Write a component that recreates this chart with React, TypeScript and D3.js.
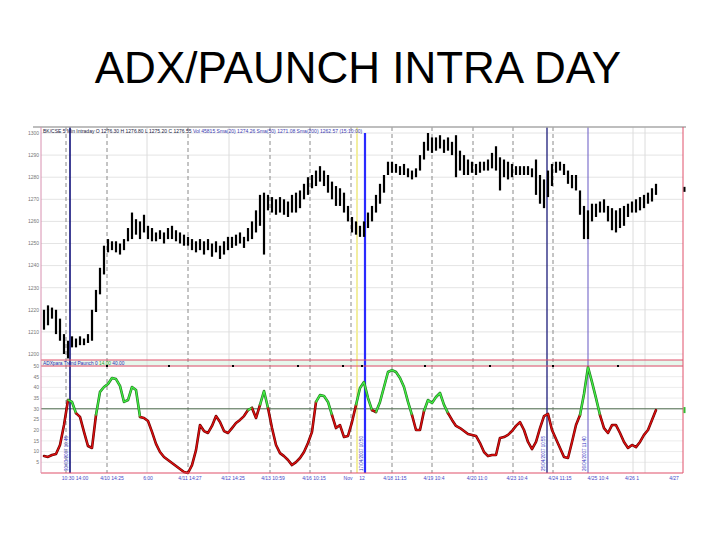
import React from 'react';
import * as d3 from 'd3';

// ---- DATA ----
const barHigh = [
  1220, 1222, 1221, 1220, 1216, 1209, 1206, 1208, 1207, 1208, 1207, 1209, 1220, 1229, 1239, 1249,
  1252, 1251, 1251, 1250, 1252, 1257, 1264, 1261, 1260, 1263, 1258, 1257, 1255, 1256, 1255, 1257,
  1258, 1256, 1255, 1254, 1253, 1252, 1251, 1252, 1251, 1252, 1250, 1251, 1249, 1251, 1253, 1253,
  1254, 1255, 1253, 1257, 1260, 1265, 1272, 1273, 1272, 1271, 1270, 1271, 1270, 1269, 1272, 1273,
  1274, 1277, 1280, 1281, 1283, 1285, 1283, 1281, 1278, 1276, 1275, 1273, 1267, 1262, 1260, 1258,
  1260, 1264, 1267, 1272, 1277, 1281, 1287, 1287, 1286, 1285, 1286, 1284, 1283, 1284, 1290, 1296,
  1300, 1298, 1298, 1299, 1297, 1298, 1296, 1299, 1292, 1290, 1288, 1287, 1286, 1287, 1287, 1288,
  1291, 1294, 1289, 1288, 1287, 1286, 1285, 1285, 1285, 1285, 1284, 1288, 1281, 1279, 1283, 1286,
  1287, 1287, 1286, 1283, 1281, 1281, 1274, 1267, 1265, 1268, 1268, 1269, 1270, 1267, 1266, 1265,
  1266, 1267, 1268, 1269, 1270, 1271, 1272, 1273, 1275, 1277,
];
const barLow = [
  1211, 1213, 1216, 1209, 1206, 1200, 1198, 1203, 1203, 1204, 1204, 1205, 1206, 1219, 1227, 1236,
  1246, 1247, 1246, 1245, 1247, 1251, 1252, 1254, 1252, 1255, 1252, 1251, 1251, 1252, 1250, 1252,
  1252, 1251, 1250, 1249, 1249, 1247, 1246, 1247, 1245, 1247, 1244, 1246, 1243, 1245, 1247, 1248,
  1249, 1250, 1248, 1251, 1252, 1255, 1258, 1245, 1265, 1264, 1263, 1264, 1263, 1262, 1264, 1264,
  1266, 1270, 1272, 1275, 1276, 1278, 1276, 1273, 1270, 1267, 1267, 1264, 1260, 1255, 1254, 1253,
  1253, 1257, 1260, 1264, 1268, 1273, 1281, 1282, 1282, 1281, 1281, 1280, 1279, 1280, 1283, 1288,
  1292, 1291, 1292, 1293, 1291, 1292, 1290, 1280, 1283, 1281, 1281, 1282, 1281, 1282, 1283, 1283,
  1284, 1283, 1274, 1280, 1279, 1280, 1281, 1281, 1281, 1281, 1280, 1272, 1268, 1266, 1271, 1276,
  1282, 1283, 1281, 1277, 1275, 1274, 1263, 1252, 1252, 1260, 1262, 1264, 1264, 1260, 1256, 1255,
  1257, 1258, 1262, 1264, 1264, 1265, 1266, 1268, 1269, 1272,
];
const adx = [
  7.9, 7.5, 8.4, 8.9, 13.1, 22.4, 34.1, 33.2, 28.0, 26.2, 19.2, 12.6, 11.7, 27.1, 37.9, 40.2,
  41.6, 44.4, 43.9, 40.7, 33.2, 34.1, 40.2, 38.8, 26.2, 25.7, 24.3, 19.2, 13.6, 9.8, 7.5, 6.1,
  4.7, 3.3, 1.9, 0.5, 0.0, 3.7, 10.7, 22.4, 19.6, 18.7, 22.0, 26.6, 23.8, 19.6, 18.7, 21.0,
  23.4, 24.8, 26.6, 29.4, 30.4, 25.7, 31.8, 38.3, 30.4, 21.0, 13.1, 9.3, 7.9, 6.1, 3.7, 5.1,
  7.0, 9.8, 14.0, 19.2, 33.2, 36.4, 36.0, 33.2, 27.1, 21.0, 22.4, 16.8, 17.3, 23.8, 31.8, 39.7,
  42.5, 35.0, 29.4, 28.5, 33.2, 40.2, 47.2, 48.1, 47.2, 44.4, 40.2, 33.2, 27.1, 20.1, 20.1, 29.0,
  34.1, 32.7, 35.5, 37.4, 31.8, 28.0, 24.8, 22.0, 21.0, 19.6, 18.2, 17.8, 17.3, 14.0, 9.8, 7.9,
  8.4, 8.4, 16.4, 16.8, 17.8, 19.6, 22.0, 23.8, 20.1, 14.5, 11.2, 14.5, 21.0, 26.6, 27.6, 20.1,
  15.9, 11.7, 7.5, 7.0, 14.5, 22.4, 27.1, 36.9, 49.5, 42.5, 35.0, 27.1, 21.0, 18.7, 22.4, 22.4,
  18.7, 14.5, 11.7, 13.1, 12.1, 14.5, 17.8, 20.1, 24.8, 29.4,
];
const priceTicks = [1200, 1210, 1220, 1230, 1240, 1250, 1260, 1270, 1280, 1290, 1300];
const adxTicks = [5, 10, 15, 20, 25, 30, 35, 40, 45, 50];
const adxLevel = 30;
const timeLabels = [
  '10:30  14:00', '4/10  14:25', '6:00', '4/11  14:27', '4/12  14:25', '4/13  10:59',
  '4/16  10:15', 'Nov', '12', '4/18  11:15', '4/19  10:4', '4/20  11:0', '4/23  10:4',
  '4/24  11:15', '4/25  10:4', '4/26  1', '4/27',
];
const timeLabelIdx = [7.75, 17, 26, 36.5, 47.25, 57.25, 67.5, 76, 79.5, 87.75, 97.5, 108.25, 118.25, 129, 138.5, 147, 157.5];
const sessionBreaks = [5.5, 15.75, 36, 56.5, 66.5, 76.75, 87, 97, 107.25, 117.25, 127.25];
const minorBreaks = [25.75, 46.25, 147.25, 150.25];
const signalIdx = [6.5, 80.25, 125.75, 136];
const signalLabels = ['30/03/2007 10:45', '17/04/2007 10:50', '25/04/2007 10:55', '26/04/2007 11:40'];
const markerIdx = [15.75, 31.25, 47.25, 63.5, 74.75, 79.5, 95.25, 111.5, 127.25, 143.5];

export default function App() {
  const W = 720, H = 540;
  const left = 41, right = 683;
  const pTop = 127, pBot = 360;
  const iTop = 366, iBot = 473;
  const n = barHigh.length;

  const x = d3.scaleLinear().domain([-0.75, 159.75]).range([left, right]);
  const yP = d3.scaleLinear().domain([1200, 1300]).range([354, 133]);
  const yI = d3.scaleLinear().domain([0, 50]).range([iBot, iTop]);

  // split ADX into colored runs
  const runs: { green: boolean; pts: [number, number][] }[] = [];
  for (let i = 0; i < n - 1; i++) {
    const g = (adx[i] + adx[i + 1]) / 2 >= 29;
    const seg: [number, number][] = [[x(i), yI(adx[i])], [x(i + 1), yI(adx[i + 1])]];
    const last = runs[runs.length - 1];
    if (last && last.green === g) last.pts.push(seg[1]);
    else runs.push({ green: g, pts: seg });
  }
  const line = d3.line<[number, number]>().curve(d3.curveLinear);

  const font = 'Liberation Sans, Arial, sans-serif';
  const lastClose = (barHigh[n - 1] + barLow[n - 1]) / 2;

  const signalStyle = [
    { c: '#10107a', w: 1.6, top: pTop },
    { c: '#2a2aff', w: 2.2, top: 133 },
    { c: '#1c1c7a', w: 1.3, top: pTop },
    { c: '#7466c8', w: 1.1, top: pTop },
  ];

  return (
    <svg width={W} height={H} style={{ position: 'absolute', left: 0, top: 0, background: '#fff' }} fontFamily={font}>
      <rect x={0} y={0} width={W} height={H} fill="#fff" />
      <text x={358} y={83} textAnchor="middle" fontSize={44} fill="#000">ADX/PAUNCH INTRA DAY</text>

      {/* panes background */}
      <rect x={left} y={pTop} width={right - left} height={pBot - pTop} fill="#fff" />
      <rect x={left} y={pBot} width={right - left} height={iTop - pBot} fill="#e6f7ec" />

      {/* horizontal grid */}
      {priceTicks.map((t) => (
        <line key={'pg' + t} x1={left} x2={right} y1={yP(t)} y2={yP(t)} stroke="#e4e4e4" strokeWidth={1} />
      ))}
      {adxTicks.map((t) => (
        <line key={'ig' + t} x1={left} x2={right} y1={yI(t)} y2={yI(t)} stroke="#ececec" strokeWidth={1} />
      ))}

      {/* vertical grid */}
      {minorBreaks.map((b) => (
        <line key={'mb' + b} x1={x(b)} x2={x(b)} y1={pTop} y2={iBot} stroke="#dcdcdc" strokeWidth={1} />
      ))}
      {sessionBreaks.map((b) => (
        <line key={'sb' + b} x1={x(b)} x2={x(b)} y1={pTop} y2={iBot} stroke="#8a8a8a" strokeWidth={1} strokeDasharray="4,3" />
      ))}
      {/* faint yellow line */}
      <line x1={x(78.25)} x2={x(78.25)} y1={pTop} y2={iBot} stroke="#f3eea0" strokeWidth={2} />

      {/* ADX reference level */}
      <line x1={left} x2={right} y1={yI(adxLevel)} y2={yI(adxLevel)} stroke="#4d6b4d" strokeWidth={1} />

      {/* signal lines */}
      {signalIdx.map((s, k) => (
        <line key={'sig' + k} x1={x(s)} x2={x(s)} y1={signalStyle[k].top} y2={iBot} stroke={signalStyle[k].c} strokeWidth={signalStyle[k].w} />
      ))}
      {signalIdx.map((s, k) => (
        <text key={'sigt' + k} transform={`translate(${x(s) - 2.5},${iBot - 2}) rotate(-90)`} fontSize={4.5} fill="#3030c0">
          {signalLabels[k]}
        </text>
      ))}

      {/* price bars */}
      {barHigh.map((h, i) => (
        <rect key={'b' + i} x={x(i) - 1.1} y={yP(h)} width={2.2} height={Math.max(1, yP(barLow[i]) - yP(h))} fill="#000" />
      ))}

      {/* ADX line */}
      {runs.map((r, k) => (
        <path key={'ru' + k} d={line(r.pts) || ''} fill="none" stroke={r.green ? '#1f7a1f' : '#6a0000'} strokeWidth={2.6} strokeLinejoin="round" strokeLinecap="round" />
      ))}
      {runs.map((r, k) => (
        <path key={'rt' + k} d={line(r.pts) || ''} fill="none" stroke={r.green ? '#44ee44' : '#e01010'} strokeWidth={1.3} strokeLinejoin="round" strokeLinecap="round" />
      ))}

      {/* pane borders */}
      <line x1={33} x2={686} y1={pTop} y2={pTop} stroke="#a8a8a8" strokeWidth={1.5} />
      <line x1={left} x2={right} y1={pBot} y2={pBot} stroke="#e0506a" strokeWidth={1} />
      <line x1={left} x2={right} y1={iTop} y2={iTop} stroke="#e0506a" strokeWidth={1.2} />
      <line x1={left} x2={right} y1={iBot} y2={iBot} stroke="#e0506a" strokeWidth={1.2} />
      <line x1={left} x2={left} y1={pTop} y2={iBot} stroke="#d890b0" strokeWidth={1} />
      <line x1={right} x2={right} y1={pTop} y2={iBot} stroke="#e0506a" strokeWidth={1} />

      {/* separator markers */}
      {markerIdx.map((m, k) => (
        <rect key={'mk' + k} x={x(m) - 1} y={iTop - 1} width={2} height={2} fill="#000" />
      ))}

      {/* last value markers */}
      <rect x={right + 0.5} y={yP(lastClose) - 2.5} width={2} height={5} fill="#000" />
      <rect x={right + 0.5} y={yI(adx[n - 1]) - 3} width={2} height={6} fill="#33bb33" />

      {/* headers */}
      <text x={43} y={133} fontSize={5} fill="#202040">
        BK/CSE  5 Min  Intraday  O 1276.30 H 1276.80 L 1275.20 C 1276.55
        <tspan fill="#3a3ab0">  Vol 45815  Sma(20) 1274.26  Sma(50) 1271.08  Sma(200) 1262.57  (15:10:00)</tspan>
      </text>
      <text x={43} y={365} fontSize={4.8} fill="#2a2ab0">
        ADXpara Trend Paunch 0
        <tspan fill="#2aa02a">  14.00</tspan>
        <tspan fill="#2a2ab0">  40.00</tspan>
      </text>

      {/* y labels */}
      {priceTicks.map((t) => (
        <text key={'pt' + t} x={39} y={yP(t) + 1.8} fontSize={5} textAnchor="end" fill="#777">{t}</text>
      ))}
      {adxTicks.map((t) => (
        <text key={'it' + t} x={39} y={yI(t) + 1.8} fontSize={5} textAnchor="end" fill="#777">{t}</text>
      ))}

      {/* x labels */}
      {timeLabels.map((l, k) => (
        <text key={'xl' + k} x={x(timeLabelIdx[k])} y={480} fontSize={5} textAnchor="middle" fill="#4848c8">{l}</text>
      ))}
    </svg>
  );
}
